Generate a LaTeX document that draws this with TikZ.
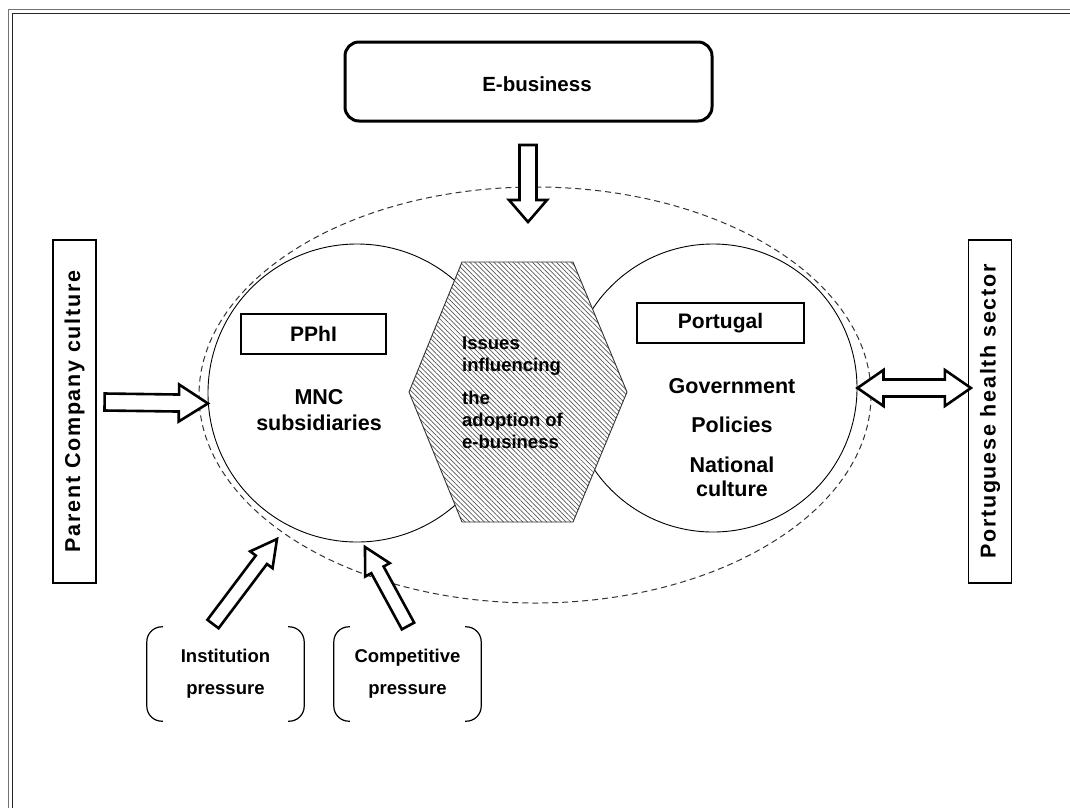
\documentclass[tikz,border=0pt]{standalone}
\usepackage{fontspec}
\setmainfont{Liberation Sans}
\newfontfamily\spacedfont[LetterSpace=8]{Liberation Sans}
\usetikzlibrary{calc,patterns.meta}

% hollow block arrow: tail, tip, shaft half width, head half width, head length
\newcommand\blockarrow[5]{%
  \coordinate (ba-h) at ($(#2)!#5!(#1)$);
  \draw[hollow] ($(#1)!#3!90:(#2)$) -- ($(ba-h)!#3!90:(#2)$) -- ($(ba-h)!#4!90:(#2)$)
    -- (#2) -- ($(ba-h)!#4!-90:(#2)$) -- ($(ba-h)!#3!-90:(#2)$) -- ($(#1)!#3!-90:(#2)$) -- cycle;
}
% hollow double-headed block arrow: tip, tip, shaft half width, head half width, head length
\newcommand\blockdarrow[5]{%
  \coordinate (bd-a) at ($(#1)!#5!(#2)$);
  \coordinate (bd-b) at ($(#2)!#5!(#1)$);
  \draw[hollow] (#1) -- ($(bd-a)!#4!90:(#2)$) -- ($(bd-a)!#3!90:(#2)$)
    -- ($(bd-b)!#3!90:(#2)$) -- ($(bd-b)!#4!90:(#2)$) -- (#2)
    -- ($(bd-b)!#4!-90:(#2)$) -- ($(bd-b)!#3!-90:(#2)$)
    -- ($(bd-a)!#3!-90:(#2)$) -- ($(bd-a)!#4!-90:(#2)$) -- cycle;
}

\tikzset{
  hollow/.style={draw=black, fill=white, line width=2.6pt, line join=miter},
  bold text/.style={font=\bfseries\fontsize{#1}{#1}\selectfont},
  ebox/.style={draw, line width=3pt, rounded corners=14pt, minimum width=367pt,
    minimum height=79pt},
  labelbox/.style={draw, line width=1.2pt, inner sep=0pt, bold text=21},
  sidebox/.style={draw, line width=1.2pt, inner sep=0pt, minimum width=343pt,
    minimum height=43pt, rotate=90, font=\spacedfont\bfseries\fontsize{21.5}{22}\selectfont},
  zone/.style={draw, line width=0.9pt, circle, inner sep=0pt},
  hexa/.style={draw=black!80, line width=0.9pt, preaction={fill=white},
    pattern={Lines[angle=-45, distance=3.4pt, line width=0.7pt]}, pattern color=black!65},
  bracketbox/.style={minimum height=94pt, inner sep=0pt, align=center,
    font=\bfseries\fontsize{18.5}{32}\selectfont},
  bracket/.style={line width=1.2pt, rounded corners=15pt},
  frameline/.style={line width=1.4pt},
}

\begin{document}
\begin{tikzpicture}[x=1pt, y=-1pt]
\useasboundingbox (0,0) rectangle (1070,807);
\fill[white] (0,0) rectangle (1070,807);

% outer double frame
\draw[frameline, black!55] (8.5,812) -- (8.5,9.5) -- (1075,9.5);
\draw[frameline, black!85] (12.5,812) -- (12.5,13.5) -- (1075,13.5);

% boundary of the setting
\draw[dashed, dash pattern=on 6pt off 4pt, line width=1pt, black!80]
  (535,395) ellipse [x radius=336, y radius=208];

% the two spheres and the issues between them
\node[zone, minimum size=298pt] (lc) at (357,393) {};
\node[zone, minimum size=288pt] (rc) at (713,388) {};
\draw[hexa] (462,262) -- (573,262) -- (627,392) -- (573,522) -- (462,522) -- (409,392) -- cycle;
\node[anchor=north west, align=left, inner sep=0pt,
  font=\bfseries\fontsize{18.5}{22}\selectfont] (issues) at (462,337)
  {Issues\\influencing\\[11pt]the\\adoption of\\e-business};

% top box
\node[ebox] (ebiz) at (528.5,81.5) {};
\node[bold text=20.5] (ebiz-text) at (537,84) {E-business};

% labels inside the spheres
\node[labelbox, minimum width=145pt, minimum height=40pt] (pphi) at (313.5,334) {PPhI};
\node[align=center, inner sep=0pt, font=\bfseries\fontsize{21.5}{26}\selectfont] (mnc)
  at (319,410) {MNC\\subsidiaries};
\node[labelbox, minimum width=167pt, minimum height=40pt] (pt) at (720.5,323) {Portugal};
\node[align=center, inner sep=0pt, font=\bfseries\fontsize{21.5}{24}\selectfont] (gov)
  at (732,438) {Government\\[15pt]Policies\\[16pt]National\\culture};

% side boxes
\node[sidebox] (parent) at (74.5,411.5) {Parent Company culture};
\node[sidebox] (health) at (990,411.5) {Portuguese health sector};

% pressure groups
\node[bracketbox, minimum width=157pt] (inst) at (225.5,674) {Institution\\pressure};
\node[bracketbox, minimum width=147pt] (comp) at (407.5,674) {Competitive\\pressure};
\foreach \n in {inst, comp} {
  \draw[bracket] ([xshift=16pt]\n.north west) -- (\n.north west) -- (\n.south west) -- ([xshift=16pt]\n.south west);
  \draw[bracket] ([xshift=-16pt]\n.north east) -- (\n.north east) -- (\n.south east) -- ([xshift=-16pt]\n.south east);
}

% arrow ends
\coordinate (ebiz-out) at (528,145);
\coordinate (ebiz-in) at (528,222);
\coordinate (parent-out) at ([xshift=8pt]parent.south |- 0,402);
\coordinate (parent-in) at (lc.184);
\coordinate (health-a) at (rc.east);
\coordinate (health-b) at ([xshift=3pt]health.north |- rc.east);
\coordinate (inst-out) at (213,624);
\coordinate (inst-in) at (277,539);
\coordinate (comp-out) at (408,626);
\coordinate (comp-in) at (365,547);

\blockarrow{ebiz-out}{ebiz-in}{8.5pt}{19pt}{22pt}
\blockarrow{parent-out}{parent-in}{8.5pt}{18.5pt}{29pt}
\blockdarrow{health-a}{health-b}{8.5pt}{18pt}{26pt}
\blockarrow{inst-out}{inst-in}{7pt}{14pt}{26pt}
\blockarrow{comp-out}{comp-in}{7pt}{14pt}{26pt}
\end{tikzpicture}
\end{document}
